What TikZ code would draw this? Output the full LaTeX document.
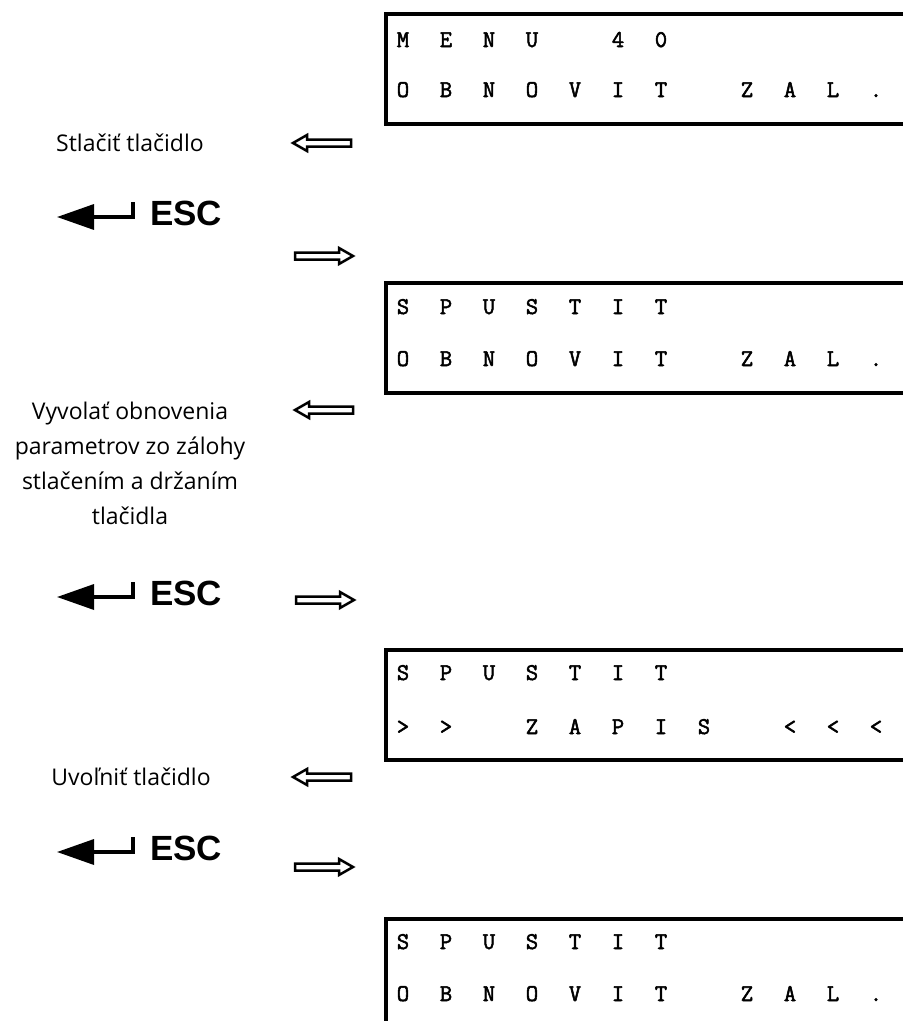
\documentclass[tikz,border=0pt]{standalone}
\usepackage{fontspec}
\setsansfont{Open Sans}
\newfontfamily\keyfont{Liberation Sans}
\newfontfamily\lcdfont[FakeBold=2.2]{Latin Modern Mono}
\usetikzlibrary{arrows.meta}

\newcommand\rowmenu{0/M,1/E,2/N,3/U,5/4,6/0}
\newcommand\rowspustit{0/S,1/P,2/U,3/S,4/T,5/I,6/T}
\newcommand\rowobnovit{0/O,1/B,2/N,3/O,4/V,5/I,6/T,8/Z,9/A,10/L,11/.}
\newcommand\rowzapis{0/>,1/>,3/Z,4/A,5/P,6/I,7/S,9/<,10/<,11/<}

\begin{document}
\begin{tikzpicture}[
  x=1pt,y=-1pt,
  lcd/.style={draw,line width=4pt,anchor=north west,inner sep=0pt,
              minimum width=600pt,minimum height=110pt},
  lcdchar/.style={anchor=base,inner sep=0pt,
                  font=\lcdfont\fontsize{24}{24}\selectfont},
  hint/.style={align=center,inner sep=0pt,font=\sffamily\fontsize{23}{35}\selectfont},
  esckey/.style={anchor=base west,inner sep=0pt,
                 font=\keyfont\bfseries\fontsize{35}{35}\selectfont},
  enter/.style={line width=3.5pt,-{Triangle[length=37pt,width=25pt]}},
  hollow/.style={draw,line width=2.5pt,fill=white,line join=miter},
  pics/fwdarr/.style={code={
    \draw[hollow] (29,0) -- (15,-8) -- (15,-3.5) -- (-29,-3.5)
      -- (-29,3.5) -- (15,3.5) -- (15,8) -- cycle;}},
  pics/backarr/.style={code={
    \draw[hollow] (-29,0) -- (-15,-8) -- (-15,-3.5) -- (29,-3.5)
      -- (29,3.5) -- (-15,3.5) -- (-15,8) -- cycle;}}
]
\useasboundingbox (0,0) rectangle (903,1021);
\clip (0,0) rectangle (903,1021);

%% ================= display 1 =================
\node[lcd] (lcd1) at (384,12) {};
\foreach \k/\c in \rowmenu    \node[lcdchar] (lcd1a\k) at (403+43*\k,47) {\c};
\foreach \k/\c in \rowobnovit \node[lcdchar] (lcd1b\k) at (403+43*\k,97) {\c};

\node[hint] (hint1) at (130,143) {Stlačiť tlačidlo};
\pic (back1) at (322,143) {backarr};
\node[esckey] (esc1) at (150,225) {ESC};
\draw[enter] ([xshift=-17pt,yshift=23pt]esc1.base west)
  |- ([xshift=-93pt,yshift=8pt]esc1.base west);
\pic (fwd1) at (324,256) {fwdarr};

%% ================= display 2 =================
\node[lcd] (lcd2) at (384,281) {};
\foreach \k/\c in \rowspustit \node[lcdchar] (lcd2a\k) at (403+43*\k,314) {\c};
\foreach \k/\c in \rowobnovit \node[lcdchar] (lcd2b\k) at (403+43*\k,366) {\c};

\node[hint] (hint2) at (130,463)
  {Vyvolať obnovenia\\parametrov zo zálohy\\stlačením a držaním\\tlačidla};
\pic (back2) at (324,410) {backarr};
\node[esckey] (esc2) at (150,605) {ESC};
\draw[enter] ([xshift=-17pt,yshift=23pt]esc2.base west)
  |- ([xshift=-93pt,yshift=8pt]esc2.base west);
\pic (fwd2) at (325,600) {fwdarr};

%% ================= display 3 =================
\node[lcd] (lcd3) at (384,648) {};
\foreach \k/\c in \rowspustit \node[lcdchar] (lcd3a\k) at (403+43*\k,680) {\c};
\foreach \k/\c in \rowzapis   \node[lcdchar] (lcd3b\k) at (403+43*\k,734) {\c};

\node[hint] (hint3) at (131,777) {Uvoľniť tlačidlo};
\pic (back3) at (322,777) {backarr};
\node[esckey] (esc3) at (150,860) {ESC};
\draw[enter] ([xshift=-17pt,yshift=23pt]esc3.base west)
  |- ([xshift=-93pt,yshift=8pt]esc3.base west);
\pic (fwd3) at (324,867) {fwdarr};

%% ================= display 4 =================
\node[lcd] (lcd4) at (384,917) {};
\foreach \k/\c in \rowspustit \node[lcdchar] (lcd4a\k) at (403+43*\k,949) {\c};
\foreach \k/\c in \rowobnovit \node[lcdchar] (lcd4b\k) at (403+43*\k,1001) {\c};

\end{tikzpicture}
\end{document}
